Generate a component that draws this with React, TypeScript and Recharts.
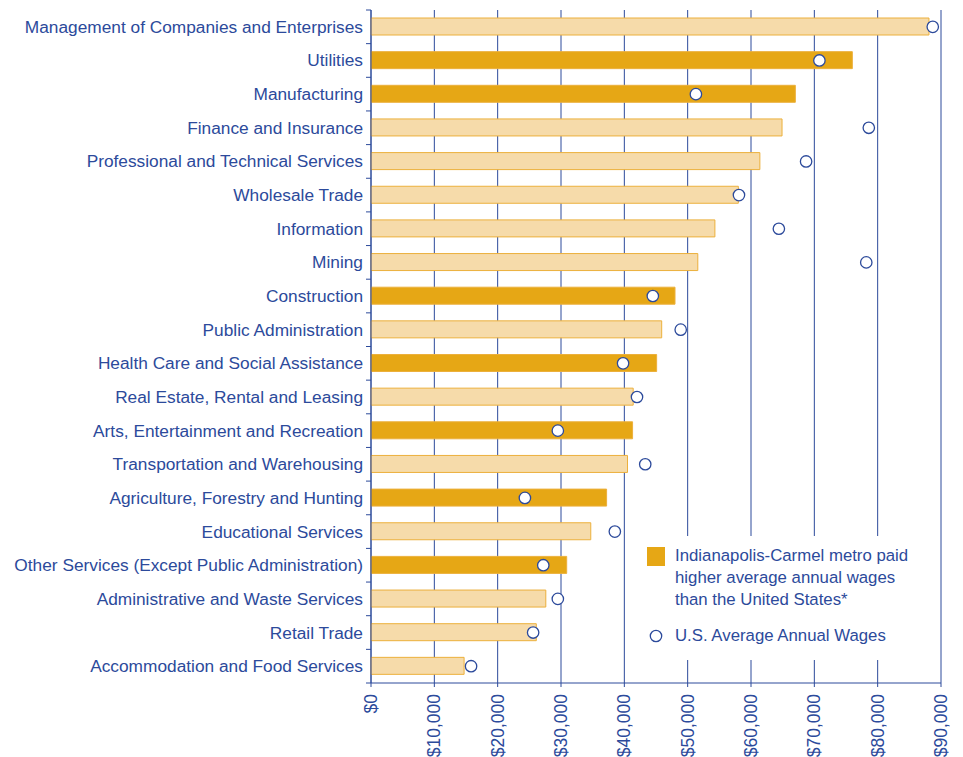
import { ComposedChart, Bar, Scatter, XAxis, YAxis, CartesianGrid, Cell } from "recharts";

const industries = [
  "Management of Companies and Enterprises",
  "Utilities",
  "Manufacturing",
  "Finance and Insurance",
  "Professional and Technical Services",
  "Wholesale Trade",
  "Information",
  "Mining",
  "Construction",
  "Public Administration",
  "Health Care and Social Assistance",
  "Real Estate, Rental and Leasing",
  "Arts, Entertainment and Recreation",
  "Transportation and Warehousing",
  "Agriculture, Forestry and Hunting",
  "Educational Services",
  "Other Services (Except Public Administration)",
  "Administrative and Waste Services",
  "Retail Trade",
  "Accommodation and Food Services",
];

const metroWages = [88100, 76000, 67000, 64900, 61400, 58000, 54300, 51600, 48000, 45900, 45100, 41400, 41300, 40500, 37200, 34700, 30900, 27600, 26100, 14700];
const usWages = [88700, 70800, 51300, 78600, 68700, 58100, 64400, 78200, 44500, 48900, 39800, 42000, 29500, 43300, 24300, 38500, 27200, 29500, 25600, 15800];
const metroHigher = [false, true, true, false, false, false, false, false, true, false, true, false, true, false, true, false, true, false, false, false];

const xTicks = [0, 10000, 20000, 30000, 40000, 50000, 60000, 70000, 80000, 90000];

const BLUE = "#2c4a9b";
const DARK = "#e6a715";
const LIGHT = "#f6dbaa";
const FONT = "'Liberation Sans', Arial, sans-serif";

const W = 963;
const H = 757;
const M = { top: 10, right: 22, left: 0, bottom: 0 };
const X_AXIS_H = 74;
const PLOT_H = H - M.top - M.bottom - X_AXIS_H;

const data = industries.map((name, i) => ({
  name,
  metro: metroWages[i],
  us: usWages[i],
  higher: metroHigher[i],
}));

function YTick(props: any) {
  const { x, y, payload, index } = props;
  const band = PLOT_H / industries.length;
  const axisX = x + 8;
  return (
    <g>
      <text x={x} y={y} textAnchor="end" dominantBaseline="central" fill={BLUE} fontSize={17.3} fontFamily={FONT}>
        {payload.value}
      </text>
      <line x1={axisX - 5} x2={axisX} y1={y - band / 2} y2={y - band / 2} stroke={BLUE} />
      {index === industries.length - 1 && (
        <line x1={axisX - 5} x2={axisX} y1={y + band / 2} y2={y + band / 2} stroke={BLUE} />
      )}
    </g>
  );
}

function XTick(props: any) {
  const { x, y, payload } = props;
  const label = "$" + payload.value.toLocaleString("en-US");
  const ty = y + 3;
  return (
    <text
      x={x}
      y={ty}
      transform={`rotate(-90, ${x}, ${ty})`}
      textAnchor="end"
      dominantBaseline="central"
      fill={BLUE}
      fontSize={17.5}
      fontFamily={FONT}
    >
      {label}
    </text>
  );
}

function UsDot(props: any) {
  const { cx, cy } = props;
  return <circle cx={cx} cy={cy} r={5.7} fill="#fff" stroke={BLUE} strokeWidth={1.3} />;
}

export default function App() {
  return (
    <div style={{ position: "absolute", left: 0, top: 0, width: W, height: H, background: "#fff" }}>
      <ComposedChart width={W} height={H} data={data} layout="vertical" margin={M}>
        <CartesianGrid horizontal={false} stroke={BLUE} strokeWidth={1} />
        <XAxis
          type="number"
          domain={[0, 90000]}
          ticks={xTicks}
          interval={0}
          height={X_AXIS_H}
          axisLine={{ stroke: BLUE }}
          tickLine={{ stroke: BLUE }}
          tickSize={4}
          tickMargin={4}
          tick={<XTick />}
        />
        <XAxis
          xAxisId="top"
          orientation="top"
          type="number"
          domain={[0, 90000]}
          height={0}
          tick={false}
          tickLine={false}
          axisLine={{ stroke: BLUE }}
        />
        <YAxis
          type="category"
          dataKey="name"
          width={371}
          interval={0}
          axisLine={{ stroke: BLUE }}
          tickLine={false}
          tick={<YTick />}
        />
        <Bar dataKey="metro" barSize={17} stroke="#ecb03c" strokeWidth={1} isAnimationActive={false}>
          {data.map((d, i) => (
            <Cell key={i} fill={d.higher ? DARK : LIGHT} />
          ))}
        </Bar>
        <Scatter dataKey="us" shape={<UsDot />} isAnimationActive={false} />
      </ComposedChart>
      <div
        style={{
          position: "absolute",
          left: 634,
          top: 536,
          width: 303,
          height: 124,
          background: "#fff",
          fontFamily: FONT,
          fontSize: 16.8,
          color: BLUE,
          lineHeight: "22px",
        }}
      >
        <div style={{ position: "absolute", left: 13, top: 11, width: 18, height: 19, background: DARK }} />
        <div style={{ position: "absolute", left: 41, top: 9 }}>
          Indianapolis-Carmel metro paid
          <br />
          higher average annual wages
          <br />
          than the United States*
        </div>
        <svg style={{ position: "absolute", left: 14, top: 93 }} width={16} height={16}>
          <circle cx={8} cy={7} r={5.7} fill="#fff" stroke={BLUE} strokeWidth={1.3} />
        </svg>
        <div style={{ position: "absolute", left: 41, top: 89 }}>U.S. Average Annual Wages</div>
      </div>
    </div>
  );
}
